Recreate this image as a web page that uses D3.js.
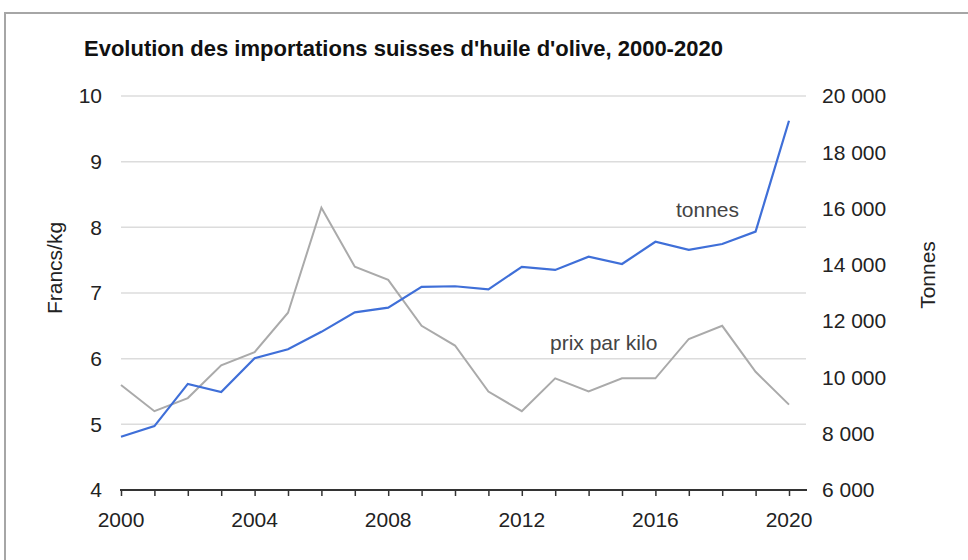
<!DOCTYPE html>
<meta charset="utf-8">
<script src="https://d3js.org/d3.v7.min.js"></script>
<style>
  body { margin: 0; background: #fff; }
  text { font-family: "Liberation Sans", Arial, sans-serif; }
</style>
<div id="chart"></div>
<script>

// data
var years = d3.range(2000, 2021);
var prix = [5.6, 5.2, 5.4, 5.9, 6.1, 6.7, 8.3, 7.4, 7.2, 6.5, 6.2, 5.5, 5.2, 5.7, 5.5, 5.7, 5.7, 6.3, 6.5, 5.8, 5.3];
var tonnes = [7890, 8270, 9770, 9480, 10680, 11000, 11620, 12310, 12480, 13220, 13240, 13130, 13930, 13820, 14290, 14030, 14820, 14530, 14740, 15180, 19120];
var leftTicks = [4, 5, 6, 7, 8, 9, 10];
var rightTicks = [6000, 8000, 10000, 12000, 14000, 16000, 18000, 20000];
var yearLabels = [2000, 2004, 2008, 2012, 2016, 2020];

var width = 968, height = 560;

var svg = d3.select("#chart")
  .append("svg")
    .attr("width", width)
    .attr("height", height);

// frame around the chart
svg.append("path")
  .attr("d", "M5,560 L5,13 L968,13")
  .attr("fill", "none")
  .attr("stroke", "#a6a6a6")
  .attr("stroke-width", 2);

// scales
var x = d3.scaleLinear().domain([2000, 2020]).range([121, 789]);
var yL = d3.scaleLinear().domain([4, 10]).range([490, 96]);
var yR = d3.scaleLinear().domain([6000, 20000]).range([490, 96]);

// title
svg.append("text")
  .attr("x", 84)
  .attr("y", 56)
  .style("font-size", "22px")
  .style("font-weight", "bold")
  .attr("fill", "#111")
  .text("Evolution des importations suisses d'huile d'olive, 2000-2020");

// gridlines
svg.append("g")
  .selectAll("line")
  .data(leftTicks.slice(1))
  .enter()
  .append("line")
    .attr("x1", 121)
    .attr("x2", 806)
    .attr("y1", function(d) { return yL(d); })
    .attr("y2", function(d) { return yL(d); })
    .attr("stroke", "#dcdcdc")
    .attr("stroke-width", 1.5);

// left axis labels
svg.append("g")
  .selectAll("text")
  .data(leftTicks)
  .enter()
  .append("text")
    .attr("x", 102)
    .attr("y", function(d) { return yL(d); })
    .attr("dy", "0.35em")
    .attr("text-anchor", "end")
    .style("font-size", "21px")
    .attr("fill", "#222")
    .text(function(d) { return d; });

// right axis labels
var fmt = function(d) { return d3.format(",")(d).replace(",", " "); };
svg.append("g")
  .selectAll("text")
  .data(rightTicks)
  .enter()
  .append("text")
    .attr("x", 822)
    .attr("y", function(d) { return yR(d); })
    .attr("dy", "0.35em")
    .style("font-size", "21px")
    .attr("fill", "#222")
    .text(fmt);

// x axis
var xAxis = d3.axisBottom(x)
  .tickValues(years)
  .tickSize(6)
  .tickSizeOuter(0)
  .tickFormat("");
var gx = svg.append("g")
  .attr("transform", "translate(0,490)")
  .call(xAxis);
gx.select(".domain").remove();
gx.selectAll(".tick line").attr("stroke", "#333").attr("stroke-width", 1.5);
gx.append("line")
  .attr("x1", 120).attr("x2", 807)
  .attr("stroke", "#333")
  .attr("stroke-width", 2);

svg.append("g")
  .selectAll("text")
  .data(yearLabels)
  .enter()
  .append("text")
    .attr("x", function(d) { return x(d); })
    .attr("y", 527)
    .attr("text-anchor", "middle")
    .style("font-size", "21px")
    .attr("fill", "#222")
    .text(function(d) { return d; });

// axis titles
svg.append("text")
  .attr("transform", "translate(62,268) rotate(-90)")
  .attr("text-anchor", "middle")
  .style("font-size", "21px")
  .attr("fill", "#222")
  .text("Francs/kg");

svg.append("text")
  .attr("transform", "translate(935,275) rotate(-90)")
  .attr("text-anchor", "middle")
  .style("font-size", "21px")
  .attr("fill", "#222")
  .text("Tonnes");

// lines
var linePrix = d3.line()
  .x(function(d, i) { return x(years[i]); })
  .y(function(d) { return yL(d); });
var lineTonnes = d3.line()
  .x(function(d, i) { return x(years[i]); })
  .y(function(d) { return yR(d); });

svg.append("path")
  .datum(prix)
  .attr("d", linePrix)
  .attr("fill", "none")
  .attr("stroke", "#aaaaaa")
  .attr("stroke-width", 2);

svg.append("path")
  .datum(tonnes)
  .attr("d", lineTonnes)
  .attr("fill", "none")
  .attr("stroke", "#3f6fd8")
  .attr("stroke-width", 2.2);

// line labels
svg.append("text")
  .attr("x", 676)
  .attr("y", 217)
  .style("font-size", "21px")
  .attr("fill", "#444")
  .text("tonnes");

svg.append("text")
  .attr("x", 550)
  .attr("y", 350)
  .style("font-size", "21px")
  .attr("fill", "#444")
  .text("prix par kilo");

</script>
